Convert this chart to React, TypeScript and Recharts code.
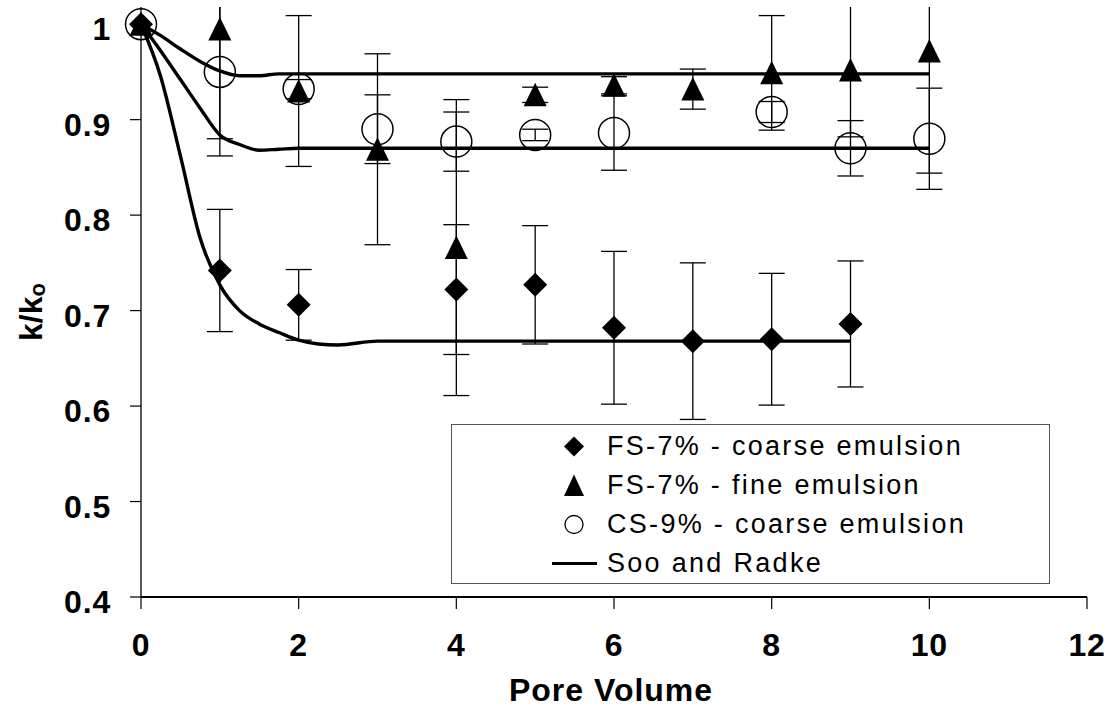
import React from "react"
import { ComposedChart, Scatter, Line, XAxis, YAxis, CartesianGrid, ErrorBar } from "recharts"

const xTicks = [0, 2, 4, 6, 8, 10, 12]
const yTicks = [0.4, 0.5, 0.6, 0.7, 0.8, 0.9, 1]

const seriesNames = [
  "FS-7% - coarse emulsion",
  "FS-7% - fine emulsion",
  "CS-9% - coarse emulsion",
  "Soo and Radke",
]

// FS-7% coarse emulsion (diamonds), err = +/- error bar
const fsCoarse = [
  { x: 0, y: 1.0 },
  { x: 1, y: 0.742, err: 0.064 },
  { x: 2, y: 0.706, err: 0.037 },
  { x: 4, y: 0.722, err: 0.068 },
  { x: 5, y: 0.727, err: 0.062 },
  { x: 6, y: 0.682, err: 0.08 },
  { x: 7, y: 0.668, err: 0.082 },
  { x: 8, y: 0.67, err: 0.069 },
  { x: 9, y: 0.686, err: 0.066 },
]

// FS-7% fine emulsion (triangles)
const fsFine = [
  { x: 0, y: 1.0 },
  { x: 1, y: 0.995, err: 0.133 },
  { x: 2, y: 0.93, err: 0.079 },
  { x: 3, y: 0.869, err: 0.1 },
  { x: 4, y: 0.766, err: 0.155 },
  { x: 5, y: 0.926, err: 0.008 },
  { x: 6, y: 0.936, err: 0.009 },
  { x: 7, y: 0.932, err: 0.021 },
  { x: 8, y: 0.949, err: 0.06 },
  { x: 9, y: 0.952, err: 0.07 },
  { x: 10, y: 0.972, err: 0.128 },
]

// CS-9% coarse emulsion (open circles)
const csCoarse = [
  { x: 0, y: 1.0 },
  { x: 1, y: 0.95, err: 0.07 },
  { x: 2, y: 0.932, err: 0.01 },
  { x: 3, y: 0.89, err: 0.036 },
  { x: 4, y: 0.877, err: 0.031 },
  { x: 5, y: 0.884, err: 0.006 },
  { x: 6, y: 0.886, err: 0.039 },
  { x: 8, y: 0.908, err: 0.011 },
  { x: 9, y: 0.87, err: 0.029 },
  { x: 10, y: 0.88, err: 0.053 },
]

// Soo and Radke model curves
const modelFsCoarse = [
  { x: 0, y: 1.0 },
  { x: 0.25, y: 0.945 },
  { x: 0.5, y: 0.862 },
  { x: 0.75, y: 0.776 },
  { x: 1, y: 0.727 },
  { x: 1.25, y: 0.7 },
  { x: 1.5, y: 0.686 },
  { x: 1.75, y: 0.677 },
  { x: 2, y: 0.669 },
  { x: 2.25, y: 0.665 },
  { x: 2.5, y: 0.664 },
  { x: 3, y: 0.668 },
  { x: 9, y: 0.668 },
]

const modelCsCoarse = [
  { x: 0, y: 1.0 },
  { x: 0.25, y: 0.972 },
  { x: 0.5, y: 0.942 },
  { x: 0.75, y: 0.912 },
  { x: 1, y: 0.884 },
  { x: 1.25, y: 0.874 },
  { x: 1.5, y: 0.868 },
  { x: 1.75, y: 0.869 },
  { x: 2, y: 0.87 },
  { x: 10, y: 0.87 },
]

const modelFsFine = [
  { x: 0, y: 1.0 },
  { x: 0.25, y: 0.988 },
  { x: 0.5, y: 0.974 },
  { x: 0.75, y: 0.961 },
  { x: 1, y: 0.951 },
  { x: 1.25, y: 0.946 },
  { x: 1.5, y: 0.946 },
  { x: 1.75, y: 0.948 },
  { x: 2, y: 0.948 },
  { x: 10, y: 0.948 },
]

const FONT = "'Liberation Sans', Arial, Helvetica, sans-serif"

const Diamond = ({ cx, cy }: any) => (
  <path d={`M${cx},${cy - 12}L${cx + 12},${cy}L${cx},${cy + 12}L${cx - 12},${cy}Z`} fill="#000" />
)

const Triangle = ({ cx, cy }: any) => (
  <path d={`M${cx},${cy - 12}L${cx + 11.5},${cy + 11.5}L${cx - 11.5},${cy + 11.5}Z`} fill="#000" />
)

const Ring = ({ cx, cy }: any) => (
  <circle cx={cx} cy={cy} r={15.5} fill="none" stroke="#000" strokeWidth={1.5} />
)

const XTick = ({ x, y, payload }: any) => (
  <text x={x} y={y + 47} textAnchor="middle" fontFamily={FONT} fontWeight="bold" fontSize={32} letterSpacing={0.8} fill="#000">
    {payload.value}
  </text>
)

const YTick = ({ x, y, payload }: any) => (
  <text x={x - 19} y={y + 16} textAnchor="end" fontFamily={FONT} fontWeight="bold" fontSize={32} letterSpacing={0.8} fill="#000">
    {String(Number(payload.value.toFixed(1)))}
  </text>
)

const XTitle = ({ viewBox }: any) => {
  const vb = viewBox || { x: 141, y: 597, width: 946, height: 111 }
  return (
    <text x={vb.x + vb.width / 2 - 3} y={vb.y + 104} textAnchor="middle" fontFamily={FONT} fontWeight="bold" fontSize={32} letterSpacing={1} fill="#000">
      Pore Volume
    </text>
  )
}

// y title; also holds the clip region used to cut error bars at the plot top
const YTitle = ({ viewBox }: any) => {
  const vb = viewBox || { x: 0, y: 7, width: 141, height: 590 }
  const bx = vb.x + 42
  const cy = vb.y + vb.height / 2 + 10
  return (
    <g>
      <defs>
        <clipPath id="errClip">
          <rect x={-2000} y={vb.y} width={6000} height={4000} />
        </clipPath>
      </defs>
      <text x={bx} y={cy} transform={`rotate(-90, ${bx}, ${cy})`} textAnchor="middle" fontFamily={FONT} fontWeight="bold" fontSize={32} fill="#000">
        k/k<tspan fontSize={22} dy={3}>o</tspan>
      </text>
    </g>
  )
}

const LegendBox = () => {
  const rowH = 39
  const symbol = (i: number) => {
    if (i === 0) return <path d="M22,9.5L32,19.5L22,29.5L12,19.5Z" fill="#000" />
    if (i === 1) return <path d="M22,8.5L32,30L12,30Z" fill="#000" />
    if (i === 2) return <circle cx={22} cy={19.5} r={9} fill="none" stroke="#000" strokeWidth={1.3} />
    return <line x1={0} y1={19.5} x2={45} y2={19.5} stroke="#000" strokeWidth={3} />
  }
  return (
    <div
      style={{
        position: "absolute",
        left: 451,
        top: 424,
        width: 599,
        height: 160,
        boxSizing: "border-box",
        border: "1.5px solid #555",
        background: "#fff",
        paddingTop: 1.5,
      }}
    >
      {seriesNames.map((name, i) => (
        <div key={name} style={{ display: "flex", alignItems: "center", height: rowH }}>
          <svg width={45} height={rowH} style={{ marginLeft: 100, display: "block" }}>
            {symbol(i)}
          </svg>
          <span
            style={{
              marginLeft: 10,
              fontFamily: FONT,
              fontSize: 27,
              letterSpacing: 2.3,
              color: "#000",
              lineHeight: `${rowH}px`,
              whiteSpace: "nowrap",
            }}
          >
            {name}
          </span>
        </div>
      ))}
    </div>
  )
}

const gridRows = ({ yAxis }: any) =>
  yAxis && typeof yAxis.scale === "function" ? yTicks.map((t) => yAxis.scale(t)) : []

export default function App() {
  return (
    <div style={{ position: "absolute", left: 0, top: 0, width: 1107, height: 708, background: "#fff" }}>
      <style>{".recharts-errorBars, .recharts-errorBar { clip-path: url(#errClip); }"}</style>
      <ComposedChart width={1107} height={708} margin={{ top: 7, right: 20, bottom: 0, left: 0 }}>
        <CartesianGrid
          horizontal={true}
          vertical={false}
          stroke="#808080"
          strokeWidth={1}
          horizontalCoordinatesGenerator={gridRows}
        />
        <XAxis
          type="number"
          dataKey="x"
          domain={[0, 12]}
          ticks={xTicks}
          height={111}
          tickSize={12}
          tickMargin={0}
          axisLine={{ stroke: "#000", strokeWidth: 1.8 }}
          tickLine={{ stroke: "#000", strokeWidth: 1.2 }}
          tick={<XTick />}
          label={<XTitle />}
        />
        <YAxis
          type="number"
          dataKey="y"
          domain={[0.4, 1.018]}
          allowDataOverflow
          ticks={yTicks}
          width={141}
          tickSize={11}
          tickMargin={0}
          axisLine={{ stroke: "#000", strokeWidth: 1.3 }}
          tickLine={{ stroke: "#000", strokeWidth: 1.2 }}
          tick={<YTick />}
          label={<YTitle />}
        />
        <Line data={modelFsCoarse} dataKey="y" type="monotone" stroke="#000" strokeWidth={3.4} dot={false} isAnimationActive={false} />
        <Line data={modelCsCoarse} dataKey="y" type="monotone" stroke="#000" strokeWidth={3.4} dot={false} isAnimationActive={false} />
        <Line data={modelFsFine} dataKey="y" type="monotone" stroke="#000" strokeWidth={3.4} dot={false} isAnimationActive={false} />
        <Scatter name={seriesNames[0]} data={fsCoarse} dataKey="y" shape={<Diamond />} isAnimationActive={false}>
          <ErrorBar dataKey="err" direction="y" width={13} stroke="#000" strokeWidth={1.3} />
        </Scatter>
        <Scatter name={seriesNames[1]} data={fsFine} dataKey="y" shape={<Triangle />} isAnimationActive={false}>
          <ErrorBar dataKey="err" direction="y" width={13} stroke="#000" strokeWidth={1.3} />
        </Scatter>
        <Scatter name={seriesNames[2]} data={csCoarse} dataKey="y" shape={<Ring />} isAnimationActive={false}>
          <ErrorBar dataKey="err" direction="y" width={13} stroke="#000" strokeWidth={1.3} />
        </Scatter>
      </ComposedChart>
      <LegendBox />
    </div>
  )
}
